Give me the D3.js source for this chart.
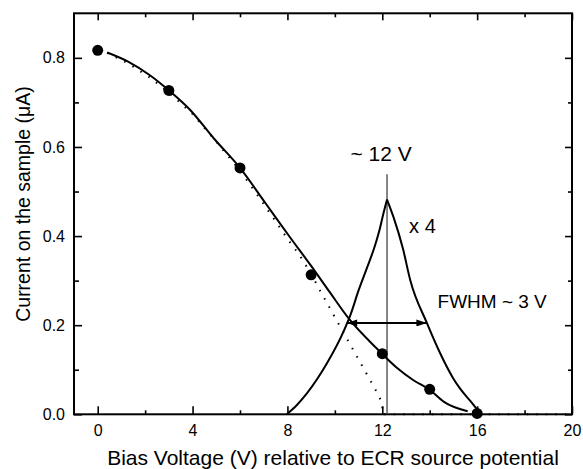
<!DOCTYPE html>
<html>
<head>
<meta charset="utf-8">
<script src="https://cdn.jsdelivr.net/npm/d3@7"></script>
<style>
  body { margin: 0; background: #fff; }
  svg text { font-family: "Liberation Sans", Arial, sans-serif; fill: #000; }
</style>
</head>
<body>
<div id="chart"></div>
<script>
// measured points (bias voltage in V, current in uA)
const pointV = [0, 3, 6, 9, 12, 14, 16];
const pointI = [0.817, 0.727, 0.553, 0.313, 0.136, 0.056, 0.002];

// solid fit through the points
const fitV = [0.4, 1.3, 2.2, 3, 3.9, 4.9, 6, 7.1, 8.1, 9, 9.8, 10.6, 11.8, 12.6, 13.3, 14, 14.6, 15.6];
const fitI = [0.812, 0.791, 0.761, 0.727, 0.683, 0.619, 0.553, 0.472, 0.398, 0.333, 0.273, 0.214, 0.146, 0.105, 0.077, 0.055, 0.028, 0.007];

// dotted curve
const dotV = [0.4, 1.3, 2.2, 3, 4, 5, 6, 7, 8, 8.5, 9, 9.35, 10, 11, 11.8, 12.0, 12.0, 20];
const dotI = [0.811, 0.787, 0.756, 0.722, 0.674, 0.612, 0.547, 0.472, 0.394, 0.358, 0.315, 0.280, 0.218, 0.123, 0.047, 0.025, 0, 0];

// derivative peak (x 4)
const peakV = [7.97, 8.4, 8.82, 9.66, 10.36, 10.65, 11.0, 11.35, 11.7, 11.88, 12.05, 12.2, 12.47, 12.87, 13.18, 13.88, 14.44, 15.0, 15.29, 15.71, 16.13];
const peakI = [0, 0.021, 0.047, 0.114, 0.185, 0.222, 0.278, 0.328, 0.38, 0.413, 0.451, 0.482, 0.443, 0.372, 0.301, 0.205, 0.137, 0.08, 0.057, 0.03, 0.002];
const peakTop = 11; // index of the cusp

const xMajor = [0, 4, 8, 12, 16, 20];
const xMinor = [2, 6, 10, 14, 18];
const yMajor = [0, 0.2, 0.4, 0.6, 0.8];
const yMinor = [0.1, 0.3, 0.5, 0.7];

const centreV = 12.2, centreTop = 0.539;
const fwhmFrom = 10.5, fwhmTo = 13.88, fwhmAt = 0.205;

const width = 583, height = 469;
const margin = {top: 13.3, right: 11, bottom: 54.7, left: 74};

const svg = d3.select("#chart").append("svg")
    .attr("width", width)
    .attr("height", height);

const x = d3.scaleLinear().domain([-1, 20]).range([margin.left, width - margin.right]);
const y = d3.scaleLinear().domain([0, 0.9]).range([height - margin.bottom, margin.top]);

// arrow heads
const defs = svg.append("defs");
defs.append("marker")
    .attr("id", "head")
    .attr("viewBox", "0 0 12 8")
    .attr("refX", 12).attr("refY", 4)
    .attr("markerWidth", 12).attr("markerHeight", 7)
    .attr("markerUnits", "userSpaceOnUse")
    .attr("orient", "auto-start-reverse")
  .append("path")
    .attr("d", "M0,0 L12,4 L0,8 Z")
    .attr("fill", "#000");

// axes, ticks pointing inward
function styleAxis(g) {
    g.select(".domain").remove();
    g.selectAll(".tick line").attr("stroke", "#000").attr("stroke-width", 1.6);
    g.selectAll("text").style("font-size", "16px");
}
const plotBottom = height - margin.bottom, plotTop = margin.top;
const plotLeft = margin.left, plotRight = width - margin.right;

svg.append("g").attr("transform", `translate(0,${plotBottom})`)
    .call(d3.axisBottom(x).tickValues(xMajor).tickSize(-8).tickPadding(10).tickFormat(d3.format("d")))
    .call(styleAxis);
svg.append("g").attr("transform", `translate(0,${plotBottom})`)
    .call(d3.axisBottom(x).tickValues(xMinor).tickSize(-4).tickFormat(""))
    .call(styleAxis);
svg.append("g").attr("transform", `translate(0,${plotTop})`)
    .call(d3.axisTop(x).tickValues(xMajor).tickSize(-7).tickFormat(""))
    .call(styleAxis);
svg.append("g").attr("transform", `translate(0,${plotTop})`)
    .call(d3.axisTop(x).tickValues(xMinor).tickSize(-4).tickFormat(""))
    .call(styleAxis);

svg.append("g").attr("transform", `translate(${plotLeft},0)`)
    .call(d3.axisLeft(y).tickValues(yMajor).tickSize(-8).tickPadding(9).tickFormat(d3.format(".1f")))
    .call(styleAxis);
svg.append("g").attr("transform", `translate(${plotLeft},0)`)
    .call(d3.axisLeft(y).tickValues(yMinor).tickSize(-5).tickFormat(""))
    .call(styleAxis);
svg.append("g").attr("transform", `translate(${plotRight},0)`)
    .call(d3.axisRight(y).tickValues(yMajor).tickSize(-7).tickFormat(""))
    .call(styleAxis);
svg.append("g").attr("transform", `translate(${plotRight},0)`)
    .call(d3.axisRight(y).tickValues(yMinor).tickSize(-4).tickFormat(""))
    .call(styleAxis);

// frame
svg.append("rect")
    .attr("x", plotLeft).attr("y", plotTop)
    .attr("width", plotRight - plotLeft).attr("height", plotBottom - plotTop)
    .attr("fill", "none").attr("stroke", "#000").attr("stroke-width", 2);

// axis titles
svg.append("text")
    .attr("x", 333).attr("y", 465)
    .attr("text-anchor", "middle")
    .style("font-size", "21px")
    .text("Bias Voltage (V) relative to ECR source potential");
svg.append("text")
    .attr("transform", "translate(30,204) rotate(-90)")
    .attr("text-anchor", "middle")
    .style("font-size", "19.5px")
    .text("Current on the sample (\u03bcA)");

const zip = (xs, ys) => xs.map((v, i) => [v, ys[i]]);

// vertical marker at the peak
svg.append("line")
    .attr("x1", x(centreV)).attr("x2", x(centreV))
    .attr("y1", y(0)).attr("y2", y(centreTop))
    .attr("stroke", "#444").attr("stroke-width", 1.3);

// dotted curve
svg.append("path")
    .datum(zip(dotV, dotI))
    .attr("fill", "none")
    .attr("stroke", "#000")
    .attr("stroke-width", 2)
    .attr("stroke-dasharray", "1.5,8")
    .attr("d", d3.line().x(d => x(d[0])).y(d => y(d[1])));

const smooth = d3.line().x(d => x(d[0])).y(d => y(d[1])).curve(d3.curveMonotoneX);

// fit curve
svg.append("path")
    .datum(zip(fitV, fitI))
    .attr("fill", "none")
    .attr("stroke", "#000")
    .attr("stroke-width", 2)
    .attr("d", smooth);

// peak: two monotone halves so the cusp stays sharp
const peak = zip(peakV, peakI);
[peak.slice(0, peakTop + 1), peak.slice(peakTop)].forEach(part => {
    svg.append("path")
        .datum(part)
        .attr("fill", "none")
        .attr("stroke", "#000")
        .attr("stroke-width", 2)
        .attr("d", smooth);
});

// FWHM arrow
svg.append("line")
    .attr("x1", x(fwhmFrom)).attr("x2", x(fwhmTo))
    .attr("y1", y(fwhmAt)).attr("y2", y(fwhmAt))
    .attr("stroke", "#000").attr("stroke-width", 2)
    .attr("marker-start", "url(#head)")
    .attr("marker-end", "url(#head)");

// points
svg.selectAll("circle.pt")
    .data(zip(pointV, pointI))
    .enter().append("circle")
    .attr("class", "pt")
    .attr("cx", d => x(d[0]))
    .attr("cy", d => y(d[1]))
    .attr("r", 5.5)
    .attr("fill", "#000");

// annotations
svg.append("text")
    .attr("x", x(11.95)).attr("y", y(0.568))
    .attr("text-anchor", "middle")
    .style("font-size", "21px")
    .text("~ 12 V");
svg.append("text")
    .attr("x", x(13.13)).attr("y", y(0.406))
    .style("font-size", "20px")
    .text("x 4");
svg.append("text")
    .attr("x", x(14.33)).attr("y", y(0.238))
    .style("font-size", "19px")
    .text("FWHM ~ 3 V");
</script>
</body>
</html>
